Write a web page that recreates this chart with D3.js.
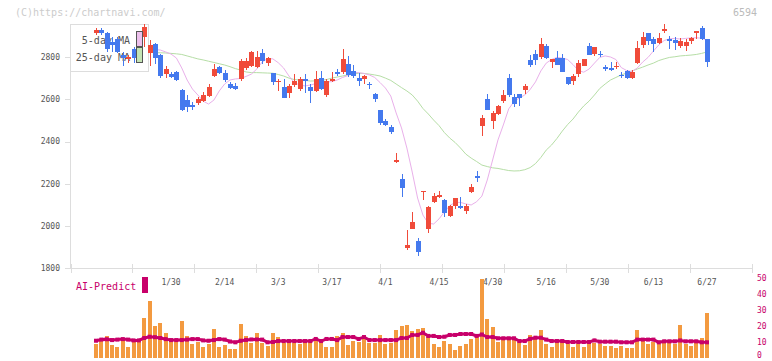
<!DOCTYPE html>
<html><head><meta charset="utf-8">
<script src="https://cdn.jsdelivr.net/npm/d3@7"></script>
<style>body{margin:0;background:#fff}svg{display:block}</style>
</head><body><svg id="c" width="772" height="361"></svg>
<script>
const dates = ["1/9","1/10","1/14","1/15","1/16","1/17","1/20","1/21","1/22","1/23","1/24","1/27","1/28","1/29","1/30","1/31",
"2/3","2/4","2/5","2/6","2/7","2/10","2/12","2/13","2/14","2/17","2/18","2/19","2/20","2/21","2/25","2/26","2/27","2/28",
"3/3","3/4","3/5","3/6","3/7","3/10","3/11","3/12","3/13","3/14","3/17","3/18","3/19","3/21","3/24","3/25","3/26","3/27","3/28","3/31",
"4/1","4/2","4/3","4/4","4/7","4/8","4/9","4/10","4/11","4/14","4/15","4/16","4/17","4/18","4/21","4/22","4/23","4/24","4/25","4/28","4/30",
"5/1","5/2","5/7","5/8","5/9","5/12","5/13","5/14","5/15","5/16","5/19","5/20","5/21","5/22","5/23","5/26","5/27","5/28","5/29","5/30",
"6/2","6/3","6/4","6/5","6/6","6/9","6/10","6/11","6/12","6/13","6/16","6/17","6/18","6/19","6/20","6/23","6/24","6/25","6/26","6/27"];
const open = [2915,2927,2915,2873,2885,2810,2791,2837,2800,2898,2820,2862,2810,2720,2720,2728,2645,2595,2575,2584,2594,2616,2712,2752,2727,2673,2665,2697,2747,2760,2752,2818,2774,2724,2683,2660,2632,2668,2651,2697,2657,2641,2703,2621,2689,2731,2731,2768,2736,2703,2698,2673,2626,2550,2498,2471,2303,2223,1895,1986,1929,2163,1986,2113,2138,2124,2048,2095,2097,2071,2160,2237,2474,2602,2499,2529,2592,2701,2610,2626,2645,2786,2816,2802,2853,2779,2797,2797,2705,2687,2720,2760,2853,2815,2815,2755,2750,2755,2716,2736,2703,2771,2858,2916,2886,2866,2924,2884,2882,2855,2855,2878,2916,2940,2886];
const high = [2940,2937,2920,2897,2897,2826,2810,2850,2860,2957,2880,2865,2815,2760,2730,2735,2650,2620,2590,2612,2633,2673,2768,2758,2739,2684,2676,2791,2795,2831,2829,2839,2802,2727,2695,2697,2673,2720,2705,2720,2672,2736,2736,2697,2731,2744,2839,2806,2763,2724,2716,2684,2629,2550,2507,2479,2348,2247,1981,2068,1945,2168,2095,2158,2166,2128,2100,2135,2139,2105,2199,2261,2526,2626,2547,2574,2645,2720,2626,2626,2673,2810,2834,2892,2862,2790,2829,2815,2708,2720,2787,2791,2869,2850,2831,2763,2779,2779,2731,2739,2739,2877,2921,2916,2897,2913,2957,2900,2894,2890,2885,2897,2926,2950,2886];
const low = [2905,2905,2825,2826,2818,2760,2774,2771,2790,2848,2760,2770,2700,2700,2702,2685,2543,2540,2550,2575,2590,2610,2708,2720,2684,2650,2645,2689,2740,2755,2747,2768,2758,2668,2640,2605,2608,2657,2641,2632,2584,2636,2645,2613,2684,2711,2720,2708,2703,2665,2673,2648,2590,2479,2474,2436,2297,2139,1887,1986,1858,2124,1969,2108,2132,2044,2044,2081,2081,2057,2155,2210,2427,2550,2460,2526,2581,2613,2565,2570,2626,2755,2763,2790,2790,2750,2763,2731,2668,2668,2708,2760,2810,2807,2799,2736,2736,2744,2703,2695,2698,2766,2842,2858,2826,2861,2913,2839,2834,2845,2831,2861,2886,2881,2755];
const close = [2930,2915,2839,2857,2826,2795,2802,2795,2840,2945,2860,2796,2712,2744,2708,2692,2552,2562,2563,2600,2620,2657,2744,2727,2692,2656,2651,2783,2782,2826,2802,2783,2796,2684,2688,2608,2663,2689,2697,2687,2640,2697,2649,2687,2697,2722,2791,2716,2712,2687,2711,2668,2602,2490,2479,2447,2313,2182,1910,2019,1879,2168,2092,2144,2147,2063,2095,2132,2087,2095,2187,2229,2513,2550,2534,2569,2621,2621,2580,2608,2663,2763,2785,2862,2798,2790,2763,2731,2673,2711,2771,2791,2810,2847,2810,2745,2740,2760,2711,2700,2731,2842,2894,2878,2861,2892,2932,2878,2869,2877,2873,2892,2923,2886,2779];
const ma5 = [2900,2905,2895,2885,2870,2855,2845,2835,2830,2840,2842,2836,2834,2825,2815,2796,2749,2692,2649,2621,2592,2578,2597,2640,2673,2692,2697,2699,2709,2720,2744,2777,2793,2792,2774,2749,2711,2680,2668,2664,2668,2675,2680,2683,2684,2692,2704,2713,2727,2727,2723,2716,2704,2680,2654,2616,2536,2465,2370,2256,2133,2052,2013,2010,2034,2067,2097,2112,2112,2105,2100,2115,2142,2218,2313,2408,2479,2555,2590,2607,2621,2647,2683,2735,2772,2789,2799,2796,2789,2765,2737,2729,2744,2772,2799,2806,2801,2789,2751,2737,2732,2749,2777,2799,2829,2858,2879,2887,2889,2886,2889,2891,2892,2890,2881];
const ma25 = [2830,2829,2828,2827,2826,2825,2825,2824,2824,2823,2823,2822,2821,2820,2818,2816,2813,2806,2799,2792,2787,2781,2775,2769,2763,2755,2746,2739,2730,2727,2727,2726,2725,2724,2718,2711,2701,2694,2692,2690,2687,2688,2690,2694,2701,2706,2711,2716,2720,2724,2723,2720,2716,2711,2701,2690,2673,2656,2640,2621,2592,2557,2531,2502,2476,2443,2417,2396,2370,2341,2322,2306,2289,2282,2276,2273,2268,2263,2261,2262,2267,2277,2296,2325,2360,2384,2415,2450,2481,2507,2540,2569,2592,2621,2652,2673,2692,2704,2716,2725,2735,2744,2753,2763,2772,2784,2792,2799,2802,2806,2808,2810,2813,2818,2825];
const volume = [8.9,11.7,13.75,8.3,6.9,11.7,6.9,10.2,10.2,25,35.8,20,22,15.8,12,10.6,23.3,13.75,8.9,10,6.9,8.9,18.3,7.1,8.1,5.6,5.6,21.25,13.75,9.6,15.6,9.4,7.5,15.6,13.1,9.4,9.4,9.4,8.75,9.4,10.6,10.6,9.4,6.9,6.9,13.75,15.6,8.1,10.6,10,11.9,9.4,9.4,14.4,8.75,9.4,17.5,20,20.6,16.9,18.1,18.9,13.3,8.75,6.9,10.6,8.75,5,7.5,8.75,11.9,13.1,49.4,24.4,19.4,10,13,13,12,10,8.1,14.4,13,17.5,8.75,6.9,9.4,10.6,8.75,6.9,8.75,6.9,9.4,9.4,8.75,7.5,7.5,6.25,7.5,6.25,6.25,17.5,10.6,8.75,10,8.75,10,10,8.75,20.6,8.75,7.5,10,12.5,28.1];
const aiPredict = [10.8,11.5,11.7,11.2,11.5,11.8,11.5,11,11,12.5,13.3,13,12.5,11.8,11.2,11.2,11.2,11.5,11.8,11.8,11,10.8,11.2,11.8,11.5,10.3,9.8,10.8,11.3,11.6,11.6,11.5,9.8,10,10.6,10.6,10.6,10.6,10.6,10.6,10.6,11.9,10.6,11.9,11.9,11.2,13.1,13.1,13.1,11.9,13.1,11.2,11.2,11.2,11.2,11.2,11.2,12.5,12.5,14.4,14.4,15.8,13.8,13.8,13.1,13.3,14.4,14.4,15,15,15,13.8,14.7,13.1,13.1,12.3,12.3,12.3,12.3,10.6,10.6,12,12.7,12.7,11.5,10.6,10.6,10.6,10,10,10,10,10,11,10.2,10.2,10.2,10.2,9.8,9.8,9.8,11.5,11.5,11.5,11.5,9.8,10.4,10.4,10.4,11,10.4,10.4,10.4,9.8,9.8];
const dateLabels = ["1/30","2/14","3/3","3/17","4/1","4/15","4/30","5/16","5/30","6/13","6/27"];
const priceTicks = [1800,2000,2200,2400,2600,2800];
const volTicks = [0,10,20,30,40,50];

const MONO = "'DejaVu Sans Mono', monospace";
const UP = "#f04b3a", DOWN = "#4479ee", VOL = "#f39a40", AI = "#c8006a";
const svg = d3.select("#c");
const x = d3.scaleLinear().domain([0, dates.length - 1]).range([96, 707]);
const y = d3.scaleLinear().domain([1800, 2800]).range([268.3, 57.2]);
const yv = d3.scaleLinear().domain([0, 50]).range([358, 278]);
const gridX = d3.scaleLinear().domain([0, 11]).range([70.5, 752]);
const idx = d3.range(dates.length);
const px = i => Math.round(x(i));

// watermark & code
svg.append("text").attr("x", 15).attr("y", 12).attr("dy", "0.35em").attr("font-family", MONO).attr("font-size", 10).attr("fill", "#cccccc").text("(C)https://chartnavi.com/");
svg.append("text").attr("x", 757).attr("y", 12).attr("dy", "0.35em").attr("text-anchor", "end").attr("font-family", MONO).attr("font-size", 10).attr("fill", "#bbbbbb").text("6594");

// axes
const ax = svg.append("g").attr("stroke", "#dddddd").attr("shape-rendering", "crispEdges");
ax.append("line").attr("x1", 70.5).attr("x2", 70.5).attr("y1", 24).attr("y2", 268.5);
ax.append("line").attr("x1", 70).attr("x2", 752).attr("y1", 268.5).attr("y2", 268.5);
ax.selectAll(".gx").data(d3.range(12)).join("line").attr("x1", d => Math.round(gridX(d)) + 0.5).attr("x2", d => Math.round(gridX(d)) + 0.5).attr("y1", 264).attr("y2", 273);
ax.selectAll(".py").data(priceTicks).join("line").attr("x1", 65).attr("x2", 70).attr("y1", d => Math.round(y(d)) + 0.5).attr("y2", d => Math.round(y(d)) + 0.5);
svg.selectAll(".pl").data(priceTicks).join("text").attr("x", 60).attr("y", d => y(d)).attr("dy", "0.35em").attr("text-anchor", "end").attr("font-family", MONO).attr("font-size", 8).attr("fill", "#555").text(d => d);

// MA lines
const line = d3.line().x((d, i) => x(i)).y(d => y(d));
svg.append("path").datum(ma25).attr("d", line).attr("fill", "none").attr("stroke", "#b6dea6").attr("stroke-width", 1);
svg.append("path").datum(ma5).attr("d", line).attr("fill", "none").attr("stroke", "#e9b0ea").attr("stroke-width", 1);

// legend box
svg.append("rect").attr("x", 70.5).attr("y", 24.5).attr("width", 78).attr("height", 47).attr("fill", "#fff").attr("stroke", "#dddddd");
svg.append("text").attr("x", 130).attr("y", 40).attr("dy", "0.35em").attr("text-anchor", "end").attr("font-family", MONO).attr("font-size", 10).attr("fill", "#555").text("5-day MA");
svg.append("text").attr("x", 130).attr("y", 57.3).attr("dy", "0.35em").attr("text-anchor", "end").attr("font-family", MONO).attr("font-size", 10).attr("fill", "#555").text("25-day MA");

// candles
const cg = svg.append("g").attr("shape-rendering", "crispEdges");
const col = i => close[i] >= open[i] ? UP : DOWN;
cg.selectAll(".w").data(idx).join("line").attr("x1", i => px(i) + 0.5).attr("x2", i => px(i) + 0.5).attr("y1", i => y(high[i])).attr("y2", i => y(low[i])).attr("stroke", col);
cg.selectAll(".b").data(idx).join("rect").attr("x", i => px(i) - 2).attr("width", 5)
  .attr("y", i => y(Math.max(open[i], close[i])))
  .attr("height", i => Math.max(1, Math.abs(y(open[i]) - y(close[i])))).attr("fill", col);

// legend swatches
svg.append("rect").attr("x", 136.5).attr("y", 31.5).attr("width", 6).attr("height", 15).attr("fill", "#ecc0ec").attr("stroke", "#555");
svg.append("rect").attr("x", 136.5).attr("y", 47.5).attr("width", 6).attr("height", 15).attr("fill", "#c4e4b4").attr("stroke", "#555");

// date labels
svg.selectAll(".dl").data(dateLabels).join("text").attr("x", d => x(dates.indexOf(d))).attr("y", 282).attr("dy", "0.35em").attr("text-anchor", "middle").attr("font-family", MONO).attr("font-size", 8).attr("fill", "#555").text(d => d);

// AI-Predict label
svg.append("text").attr("x", 76).attr("y", 286).attr("dy", "0.35em").attr("font-family", MONO).attr("font-size", 10).attr("fill", AI).text("AI-Predict");
svg.append("rect").attr("x", 142).attr("y", 277).attr("width", 6).attr("height", 16).attr("fill", AI);

// volume bars
svg.append("g").attr("shape-rendering", "crispEdges").selectAll("rect").data(idx).join("rect")
  .attr("x", i => px(i) - 2).attr("width", 4).attr("y", i => yv(volume[i])).attr("height", i => yv(0) - yv(volume[i])).attr("fill", VOL);

// AI predict line
const vline = d3.line().x((d, i) => x(i)).y(d => yv(d));
svg.append("path").datum(aiPredict).attr("d", vline).attr("fill", "none").attr("stroke", AI).attr("stroke-width", 3);
svg.append("g").selectAll("rect").data(idx).join("rect").attr("x", i => x(i) - 2).attr("y", i => yv(aiPredict[i]) - 2).attr("width", 4).attr("height", 4).attr("fill", AI);

// right volume axis labels
svg.selectAll(".vl").data(volTicks).join("text").attr("x", 757).attr("y", d => Math.min(yv(d), 355)).attr("dy", "0.35em").attr("font-family", MONO).attr("font-size", 8).attr("fill", AI).text(d => d);
</script></body></html>
